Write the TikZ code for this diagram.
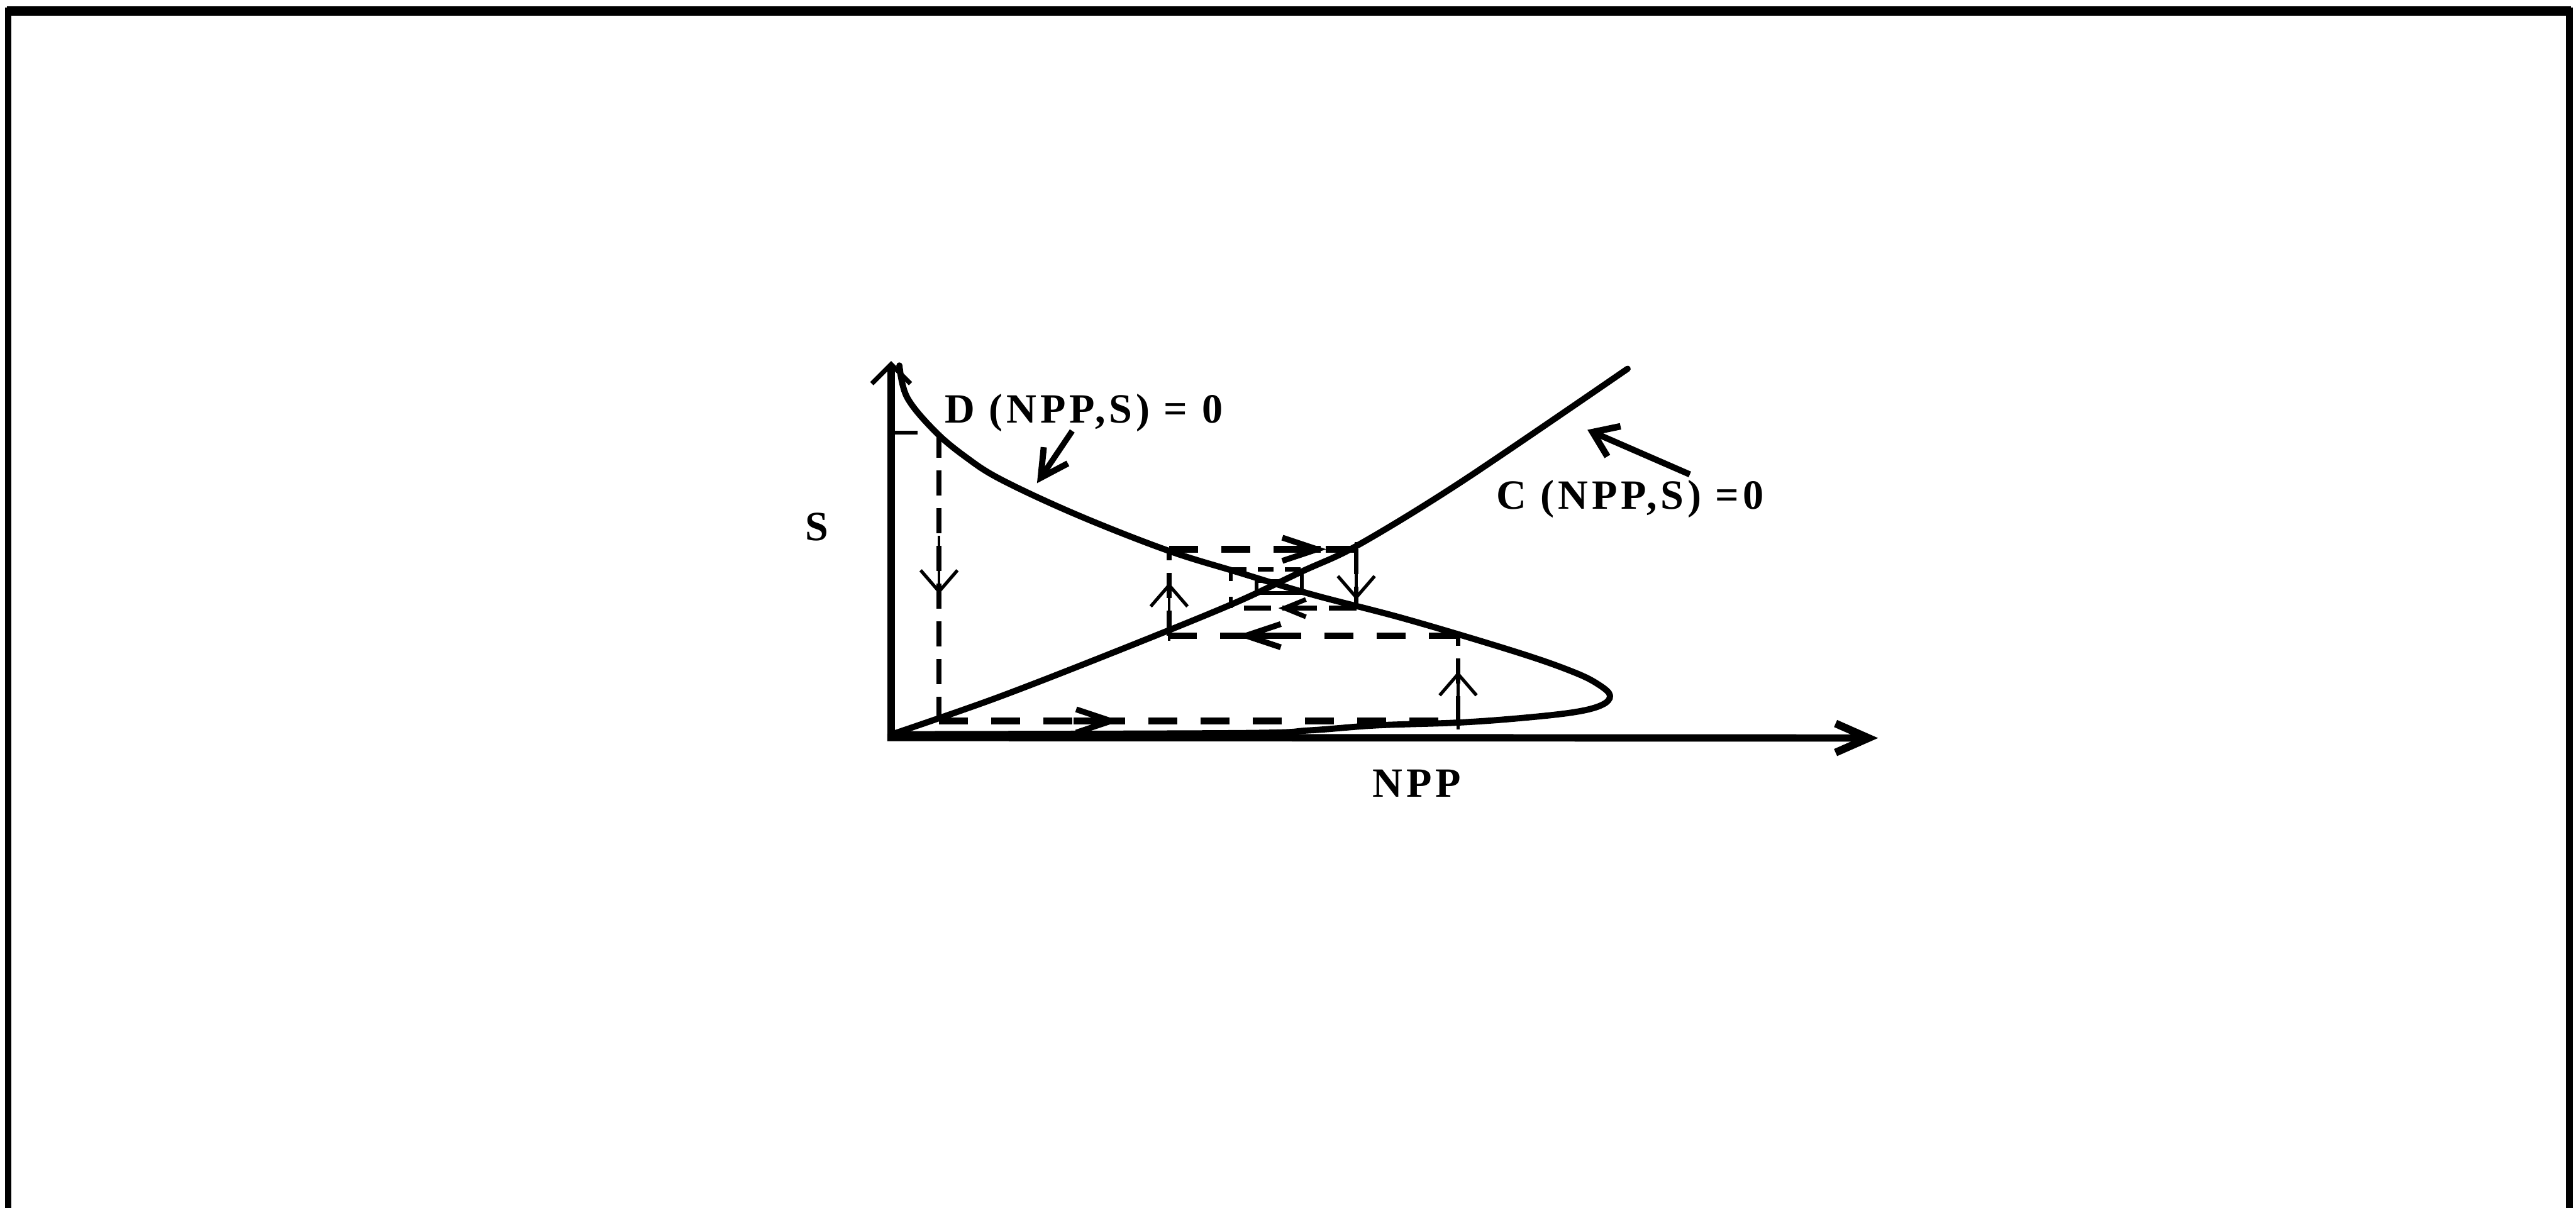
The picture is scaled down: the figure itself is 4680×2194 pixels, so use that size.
\documentclass[tikz,border=0pt]{standalone}
\usepackage{fontspec}
\setmainfont{Liberation Serif}
\newfontfamily\labfont[LetterSpace=9]{Liberation Serif}
\usetikzlibrary{arrows.meta,decorations.markings}
\begin{document}
\begin{tikzpicture}[x=0.01cm,y=-0.01cm,
  axisline/.style={line width=3.8pt},
  curveline/.style={line width=3.2pt, line join=round, line cap=round},
  hdash/.style={line width=3.3pt, dash pattern=on 15pt off 12pt},
  vdash/.style={line width=2.4pt, dash pattern=on 13pt off 6.5pt},
  lab/.style={font=\labfont\bfseries\fontsize{21.5pt}{24pt}\selectfont, inner sep=0pt},
  hmark/.style={postaction={decorate,decoration={markings,mark=at position #1 with {\draw[solid,line width=3.3pt] (-24pt,0) -- (-3pt,0); \arrow{Straight Barb[length=18pt,width=12pt,line width=3pt]}}}}},
  vmark/.style={postaction={decorate,decoration={markings,mark=at position #1 with {\draw[solid,line width=1.4pt] (-30pt,0) -- (-1pt,0); \arrow{Straight Barb[length=11pt,width=19pt,line width=1.7pt]}}}}}
]
\useasboundingbox (0,0) rectangle (4680,2194);
% frame
\draw[line width=3.4pt, line join=miter] (15,2200) -- (15,20) -- (4668,20) -- (4668,2200);
\draw[line width=4.8pt] (12,20) -- (4671,20);

% axes
\coordinate (ytop) at (1619,656);
\coordinate (ybot) at (1619,1346);
\coordinate (xbeg) at (1612,1340);
\coordinate (xend) at (3412,1341);
\draw[axisline, -{Straight Barb[length=10pt,width=20pt,line width=2.4pt]}] (ybot) -- (ytop);
\draw[axisline, -{Straight Barb[length=17pt,width=15pt,line width=4pt]}] (xbeg) -- (xend);

% D(NPP,S)=0 curve
\draw[curveline] plot[smooth, tension=0.6] coordinates {
 (1634,664) (1648,722) (1698,783) (1754,830) (1820,872) (1958,936) (2121,1000)
 (2250,1040) (2383,1080) (2555,1125) (2759,1186) (2861,1222) (2906,1245)
 (2925,1264) (2910,1281) (2860,1294) (2760,1305) (2647,1313) (2500,1318)
 (2380,1327) (2250,1332) (1625,1334)};

% C(NPP,S)=0 curve
\draw[curveline] plot[smooth, tension=0.55] coordinates {
 (1621,1334) (1805,1270) (2009,1191) (2233,1100) (2366,1038) (2468,990)
 (2657,874) (2957,670)};

% cobweb path
\coordinate (p0) at (1625,786);
\coordinate (p1) at (1706,786);
\coordinate (p2) at (1706,1310);
\coordinate (p3) at (2649,1310);
\coordinate (p4) at (2649,1155);
\coordinate (p5) at (2124,1155);
\coordinate (p6) at (2124,998);
\coordinate (p7) at (2464,998);
\coordinate (p8) at (2464,1105);
\coordinate (p9) at (2236,1105);
\coordinate (p10) at (2236,1035);
\coordinate (p11) at (2365,1035);
\coordinate (p12) at (2365,1077);
\coordinate (p13) at (2283,1077);
\coordinate (p14) at (2283,1056);
\coordinate (p15) at (2330,1056);

\draw[line width=2pt, dash pattern=on 12pt off 30pt] (p0) -- (p1);
\draw[vdash, vmark=0.56] (p1) -- (p2);
\draw[hdash, hmark=0.349] (p2) -- (p3);
\draw[vdash, vmark=0.58] (p3) -- (p4);
\draw[hdash, hmark=0.766] (p4) -- (p5);
\draw[vdash, vmark=0.614] (p5) -- (p6);
\draw[hdash, hmark=0.84] (p6) -- (p7);
\draw[vdash, vmark=0.86] (p7) -- (p8);
\draw[line width=2.6pt, dash pattern=on 14pt off 8pt,
  postaction={decorate,decoration={markings,mark=at position 0.62 with {\draw[solid,line width=2.6pt] (-20pt,0) -- (-2pt,0); \arrow{Straight Barb[length=11pt,width=9pt,line width=2.4pt]}}}}] (p8) -- (p9);
\draw[line width=2pt, dash pattern=on 6pt off 8pt] (p9) -- (p10);
\draw[line width=2.2pt, dash pattern=on 8pt off 6pt] (p10) -- (p11);
\draw[line width=2pt] (p11) -- (p12) -- (p13) -- (p14) -- (p15);

% labels
\node[lab, anchor=base west] (dlab) at (1716,768) {D (NPP,S) = 0};
\node[lab, anchor=base west] (clab) at (2718,925) {C (NPP,S) =0};
\node[lab] (slab) at (1484,957) {S};
\node[lab] (npplab) at (2574,1423) {NPP};

% label arrows
\coordinate (dtail) at (1948,783);
\coordinate (dtip) at (1884,878);
\coordinate (ctail) at (3070,862);
\coordinate (ctip) at (2884,781);
\draw[line width=3pt, -{Straight Barb[length=14pt,width=15pt,line width=3.2pt]}] (dtail) -- (dtip);
\draw[line width=3.2pt, -{Straight Barb[length=12pt,width=17pt,line width=3.4pt]}] (ctail) -- (ctip);
\end{tikzpicture}
\end{document}
